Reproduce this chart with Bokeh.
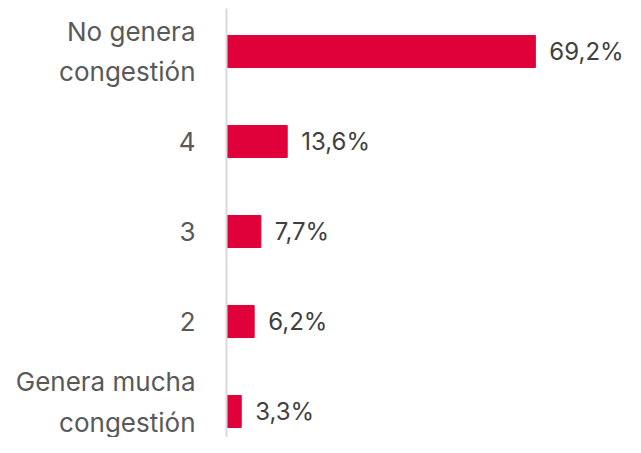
from bokeh.plotting import figure
from bokeh.models import ColumnDataSource, Range1d, FixedTicker
from bokeh.core.properties import value
from bokeh.embed import file_html
from bokeh.resources import INLINE

categories = ["No genera\ncongestión", "4", "3", "2", "Genera mucha\ncongestión"]
values = [69.2, 13.6, 7.7, 6.2, 3.3]
value_labels = ["69,2%", "13,6%", "7,7%", "6,2%", "3,3%"]

n = len(categories)
ypos = [n - 1 - i for i in range(n)]

src = ColumnDataSource(dict(y=ypos, v=values, lab=value_labels))

p = figure(width=625, height=437, output_backend="svg", toolbar_location=None,
           x_range=Range1d(0, 89.4), y_range=Range1d(-0.289, n - 1 + 0.478),
           min_border_left=226, min_border_right=0, min_border_top=8, min_border_bottom=0)

p.hbar(y="y", right="v", left=0, height=0.356, source=src, color="#E0003A")
p.text(x="v", y="y", text="lab", source=src, x_offset=14,
       text_font=value("Inter"), text_font_size="24px", text_color="#404040",
       text_align="left", text_baseline="middle")

p.xaxis.visible = False
p.xgrid.visible = False
p.ygrid.visible = False
p.outline_line_color = None

ya = p.yaxis[0]
ya.ticker = FixedTicker(ticks=ypos)
ya.major_label_overrides = {y: c for y, c in zip(ypos, categories)}
ya.axis_line_color = "#D9D9D9"
ya.axis_line_width = 2
ya.major_tick_line_color = None
ya.minor_tick_line_color = None
ya.major_label_standoff = 25
ya.major_label_text_font = "Inter"
ya.major_label_text_font_size = "26px"
ya.major_label_text_color = "#595959"
ya.major_label_text_align = "right"
ya.major_label_text_line_height = 1.3

open("out.html", "w").write(file_html(p, INLINE))
